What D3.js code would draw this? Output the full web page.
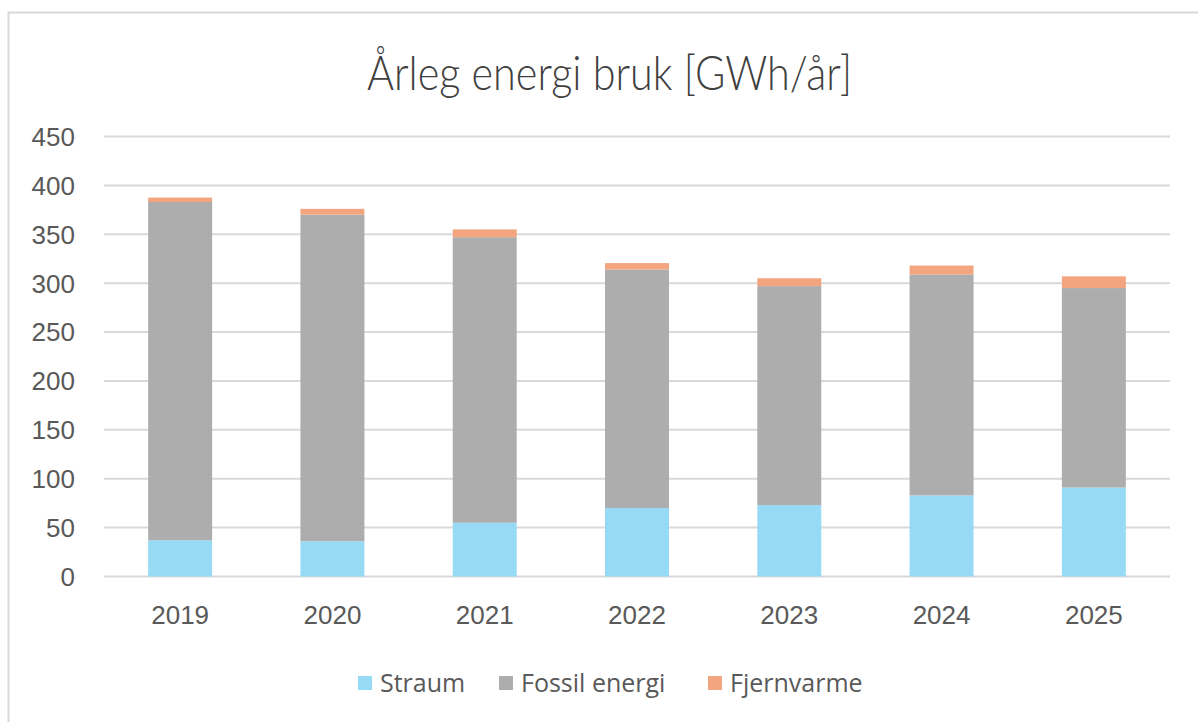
<!DOCTYPE html>
<html><head><meta charset="utf-8">
<script src="https://cdn.jsdelivr.net/npm/d3@7"></script>
<style>body{margin:0;background:#fff;}svg{display:block;}</style>
</head><body>
<svg id="c" width="1198" height="722"></svg>
<script>
const years = ["2019","2020","2021","2022","2023","2024","2025"];
const straum = [37, 36, 55, 70, 73, 83, 91];
const fossil = [346, 334, 292, 244, 224, 226, 204];
const fjernvarme = [4.5, 6, 8, 6.5, 8, 9, 12];
const seriesNames = ["Straum", "Fossil energi", "Fjernvarme"];
const seriesColors = ["#97DAF6", "#ADADAD", "#F2A57E"];
const yTicks = [0, 50, 100, 150, 200, 250, 300, 350, 400, 450];
const title = "Årleg energi bruk [GWh/år]";

const svg = d3.select("#c");
const numFont = "'Liberation Sans', Arial, sans-serif";
const txtFont = "'Open Sans', 'Noto Sans', sans-serif";

// frame
svg.append("rect").attr("x", 8.5).attr("y", 12.5).attr("width", 1200).attr("height", 720)
  .attr("fill", "none").attr("stroke", "#d9d9d9").attr("stroke-width", 2);

const x = d3.scaleBand().domain(years).range([104, 1170]).paddingInner(0.58).paddingOuter(0.29);
const y = d3.scaleLinear().domain([0, 450]).range([576.5, 136.5]);

// gridlines
svg.append("g").selectAll("line").data(yTicks).join("line")
  .attr("x1", 104).attr("x2", 1170)
  .attr("y1", d => y(d)).attr("y2", d => y(d))
  .attr("stroke", "#d9d9d9").attr("stroke-width", 2);

// y labels
svg.append("g").selectAll("text").data(yTicks).join("text")
  .attr("x", 75).attr("y", d => y(d)).attr("dy", "0.36em")
  .attr("text-anchor", "end").attr("font-family", numFont).attr("font-size", 26)
  .attr("fill", "#595959").text(d => d);

// stacked data
const table = years.map((yr, i) => ({year: yr, Straum: straum[i], "Fossil energi": fossil[i], Fjernvarme: fjernvarme[i]}));
const stack = d3.stack().keys(seriesNames)(table);
const color = d3.scaleOrdinal().domain(seriesNames).range(seriesColors);

svg.append("g").selectAll("g").data(stack).join("g")
  .attr("fill", d => color(d.key))
  .selectAll("rect").data(d => d).join("rect")
  .attr("x", d => x(d.data.year)).attr("width", x.bandwidth())
  .attr("y", d => y(d[1])).attr("height", d => y(d[0]) - y(d[1]));

// x labels
svg.append("g").selectAll("text").data(years).join("text")
  .attr("x", d => x(d) + x.bandwidth() / 2).attr("y", 624)
  .attr("text-anchor", "middle").attr("font-family", numFont).attr("font-size", 26)
  .attr("fill", "#595959").text(d => d);

// title
svg.append("text").attr("x", 367).attr("y", 90)
  .attr("textLength", 485).attr("lengthAdjust", "spacingAndGlyphs")
  .attr("font-family", "Lato, 'Open Sans', sans-serif").attr("font-weight", 300).attr("font-size", 48)
  .attr("fill", "#404040").text(title);

// legend
const legX = [358, 499, 708];
const leg = svg.append("g").selectAll("g").data(seriesNames).join("g")
  .attr("transform", (d, i) => `translate(${legX[i]},676)`);
leg.append("rect").attr("width", 14).attr("height", 14).attr("fill", d => color(d));
leg.append("text").attr("x", 22).attr("y", 7).attr("dy", "0.35em")
  .attr("font-family", txtFont).attr("font-size", 25).attr("fill", "#595959").text(d => d);
</script>
</body></html>
